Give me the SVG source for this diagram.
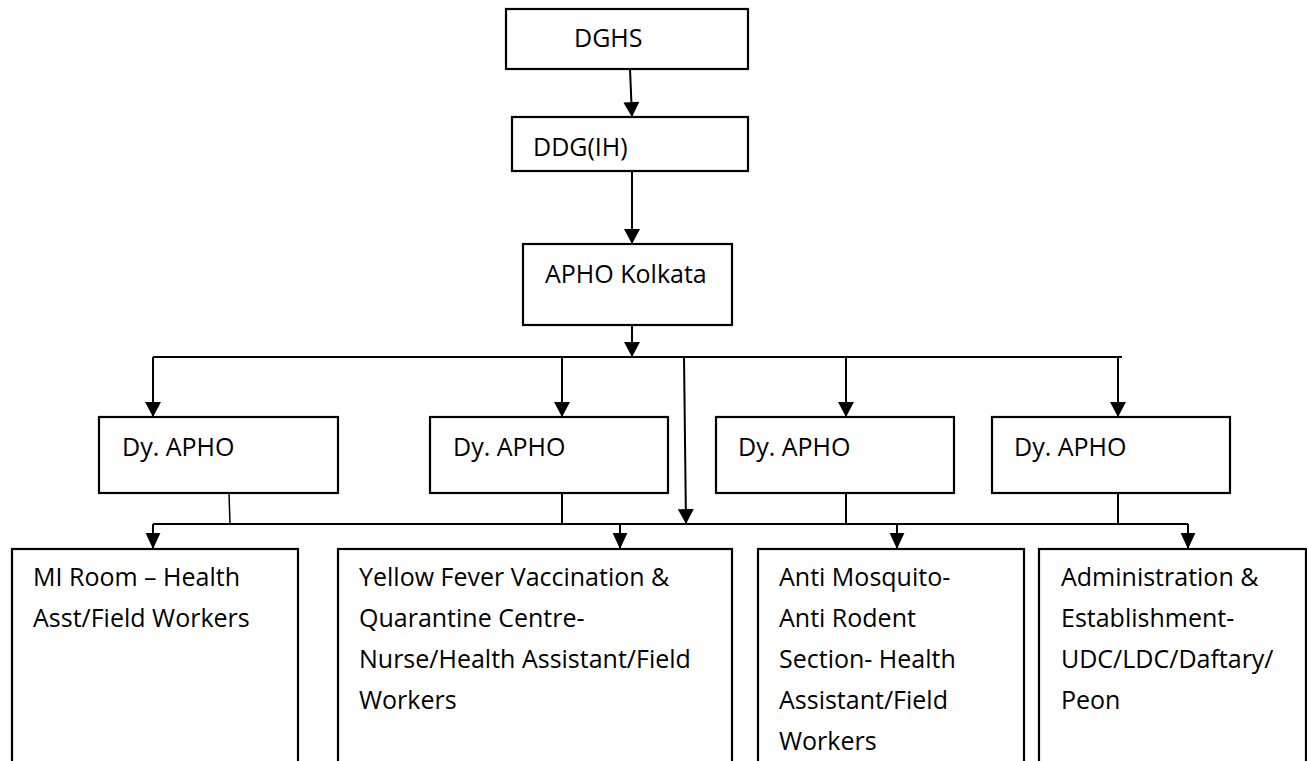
<svg xmlns="http://www.w3.org/2000/svg" width="1307" height="761" viewBox="0 0 1307 761">
<style>
.box{fill:#fff;stroke:#000;stroke-width:2.2}
.t{font-family:"Open Sans","Noto Sans","Liberation Sans",sans-serif;font-size:25px;fill:#000}
.c{fill:none;stroke:#000;stroke-width:2}
.ca{fill:none;stroke:#000;stroke-width:2;marker-end:url(#ah)}
.cb{fill:none;stroke:#000;stroke-width:2;marker-end:url(#ahs)}
</style>
<defs>
<marker id="ah" markerUnits="userSpaceOnUse" markerWidth="16" markerHeight="16" viewBox="0 0 14 15" refX="14" refY="7.5" orient="auto">
<path d="M0,0 L14,7.5 L0,15 z" fill="#000"/>
</marker>
<marker id="ahs" markerUnits="userSpaceOnUse" markerWidth="16" markerHeight="16" viewBox="0 0 14 13" refX="14" refY="6.5" orient="auto">
<path d="M0,0 L14,6.5 L0,13 z" fill="#000"/>
</marker>
</defs>
<rect width="1307" height="761" fill="#fff"/>
<g id="connectors">
<line class="ca" x1="630" y1="69" x2="632" y2="117"/>
<line class="ca" x1="632" y1="171" x2="632" y2="244"/>
<line class="ca" x1="632" y1="325" x2="632" y2="357"/>
<line class="c" x1="153" y1="357" x2="1122" y2="357"/>
<line class="ca" x1="153" y1="357" x2="153" y2="417"/>
<line class="ca" x1="562" y1="357" x2="562" y2="417"/>
<line class="ca" x1="846" y1="357" x2="846" y2="417"/>
<line class="ca" x1="1118" y1="357" x2="1118" y2="417"/>
<line class="ca" x1="684" y1="357" x2="686" y2="524"/>
<line class="c" x1="229" y1="493" x2="230" y2="524" style="stroke-width:1.5"/>
<line class="c" x1="562" y1="493" x2="562" y2="524"/>
<line class="c" x1="846" y1="493" x2="846" y2="524"/>
<line class="c" x1="1118" y1="493" x2="1118" y2="524"/>
<line class="c" x1="153" y1="524" x2="1188" y2="524"/>
<line class="cb" x1="153" y1="524" x2="153" y2="549"/>
<line class="cb" x1="620" y1="524" x2="620" y2="549"/>
<line class="cb" x1="897" y1="524" x2="897" y2="549"/>
<line class="cb" x1="1188" y1="524" x2="1188" y2="549"/>
</g>
<g id="dghs">
<rect class="box" x="506" y="9" width="242" height="60"/>
<text class="t" x="574" y="47">DGHS</text>
</g>
<g id="ddg">
<rect class="box" x="512" y="117" width="236" height="54"/>
<text class="t" x="533" y="156">DDG(IH)</text>
</g>
<g id="apho">
<rect class="box" x="523" y="244" width="209" height="81"/>
<text class="t" x="545" y="283">APHO Kolkata</text>
</g>
<g id="dy1">
<rect class="box" x="99" y="417" width="239" height="76"/>
<text class="t" x="122" y="456">Dy. APHO</text>
</g>
<g id="dy2">
<rect class="box" x="430" y="417" width="238" height="76"/>
<text class="t" x="453" y="456">Dy. APHO</text>
</g>
<g id="dy3">
<rect class="box" x="716" y="417" width="238" height="76"/>
<text class="t" x="738" y="456">Dy. APHO</text>
</g>
<g id="dy4">
<rect class="box" x="992" y="417" width="238" height="76"/>
<text class="t" x="1014" y="456">Dy. APHO</text>
</g>
<g id="mi">
<rect class="box" x="12" y="549" width="286" height="230"/>
<text class="t" x="33"><tspan y="586">MI Room – Health</tspan><tspan x="33" y="627">Asst/Field Workers</tspan></text>
</g>
<g id="yellow">
<rect class="box" x="338" y="549" width="394" height="230"/>
<text class="t" x="359"><tspan y="586">Yellow Fever Vaccination &amp;</tspan><tspan x="359" y="627">Quarantine Centre-</tspan><tspan x="359" y="668">Nurse/Health Assistant/Field</tspan><tspan x="359" y="709">Workers</tspan></text>
</g>
<g id="anti">
<rect class="box" x="758" y="549" width="266" height="230"/>
<text class="t" x="779"><tspan y="586">Anti Mosquito-</tspan><tspan x="779" y="627">Anti Rodent</tspan><tspan x="779" y="668">Section- Health</tspan><tspan x="779" y="709">Assistant/Field</tspan><tspan x="779" y="750">Workers</tspan></text>
</g>
<g id="admin">
<rect class="box" x="1039" y="549" width="267" height="230"/>
<text class="t" x="1061"><tspan y="586">Administration &amp;</tspan><tspan x="1061" y="627">Establishment-</tspan><tspan x="1061" y="668">UDC/LDC/Daftary/</tspan><tspan x="1061" y="709">Peon</tspan></text>
</g>
</svg>
